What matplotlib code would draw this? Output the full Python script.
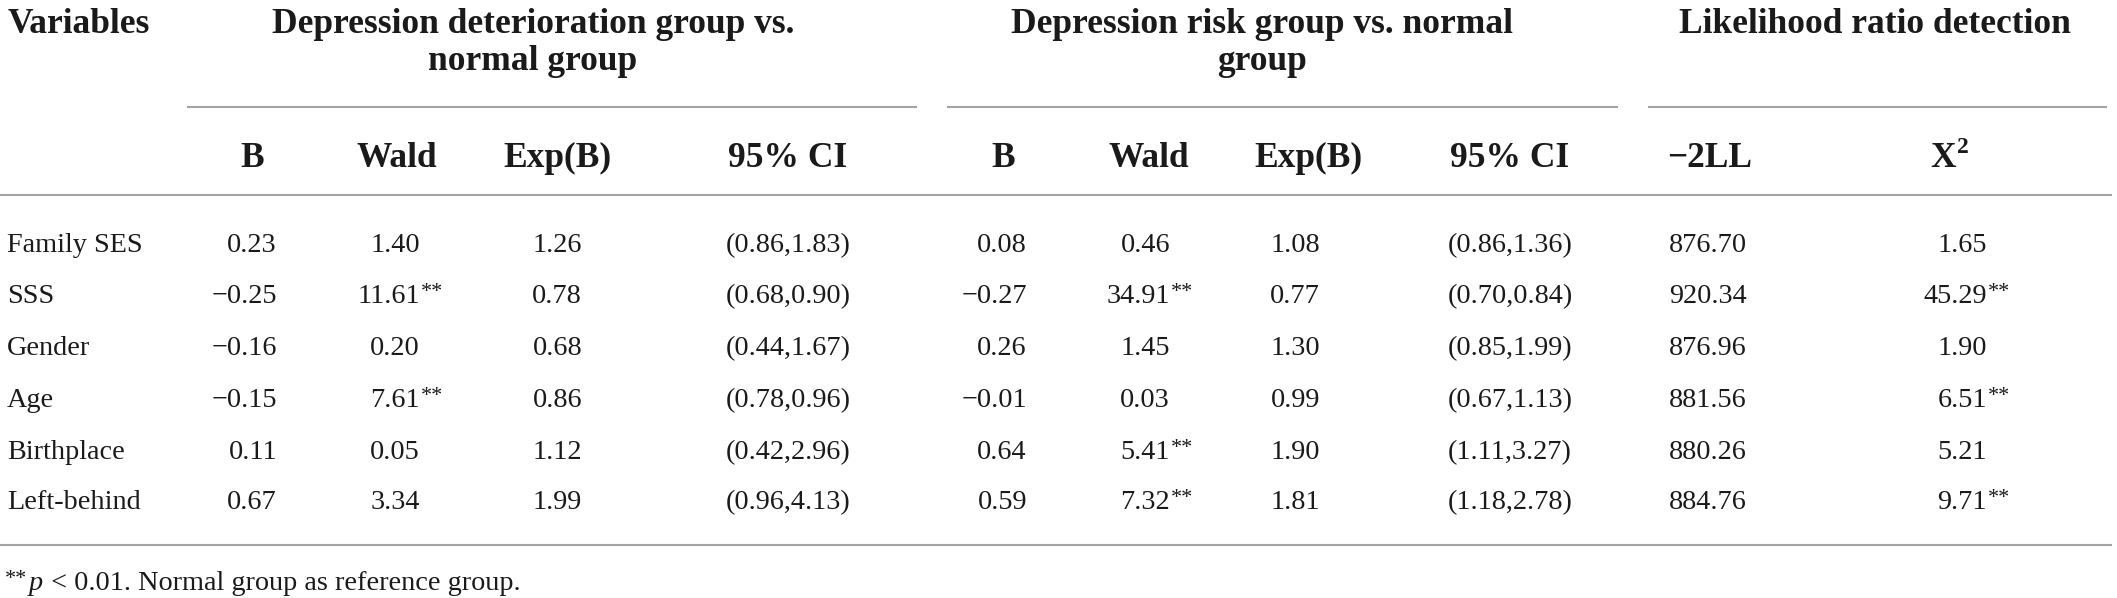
import matplotlib.pyplot as plt

# table contents
variables = ['Family SES', 'SSS', 'Gender', 'Age', 'Birthplace', 'Left-behind']

b_det = [0.23, -0.25, -0.16, -0.15, 0.11, 0.67]
wald_det = [1.40, 11.61, 0.20, 7.61, 0.05, 3.34]
wald_det_sig = [False, True, False, True, False, False]
exp_det = [1.26, 0.78, 0.68, 0.86, 1.12, 1.99]
ci_det = [(0.86, 1.83), (0.68, 0.90), (0.44, 1.67), (0.78, 0.96), (0.42, 2.96), (0.96, 4.13)]

b_risk = [0.08, -0.27, 0.26, -0.01, 0.64, 0.59]
wald_risk = [0.46, 34.91, 1.45, 0.03, 5.41, 7.32]
wald_risk_sig = [False, True, False, False, True, True]
exp_risk = [1.08, 0.77, 1.30, 0.99, 1.90, 1.81]
ci_risk = [(0.86, 1.36), (0.70, 0.84), (0.85, 1.99), (0.67, 1.13), (1.11, 3.27), (1.18, 2.78)]

ll2 = [876.70, 920.34, 876.96, 881.56, 880.26, 884.76]
chi2 = [1.65, 45.29, 1.90, 6.51, 5.21, 9.71]
chi2_sig = [False, True, False, True, False, True]

group_titles = [['Depression deterioration group vs.', 'normal group'],
                ['Depression risk group vs. normal', 'group'],
                ['Likelihood ratio detection']]
sub_headers = ['B', 'Wald', 'Exp(B)', '95% CI', 'B', 'Wald', 'Exp(B)', '95% CI', '\u22122LL']
footnote = ' < 0.01. Normal group as reference group.'

FONT = 'Liberation Serif'
TXT = '#1a1a1a'
LINE = '#a3a3a3'
BODY = 20.3
HEAD = 25.5
STAR = 16


def fmt(v):
    return f'{v:.2f}'.replace('-', '\u2212')


fig = plt.figure(figsize=(21.17, 5.98), dpi=100)
ax = fig.add_axes([0, 0, 1, 1])
ax.set_xlim(0, 2117)
ax.set_ylim(598, 0)
ax.axis('off')


def txt(x, y, s, ha='left', size=BODY, weight='normal', style='normal'):
    return ax.text(x, y, s, ha=ha, va='baseline', fontsize=size, family=FONT,
                   fontweight=weight, fontstyle=style, color=TXT)


def hline(x0, x1, y):
    ax.plot([x0, x1], [y, y], color=LINE, lw=1.5, solid_capstyle='butt')


# header
txt(8, 33, 'Variables', size=HEAD, weight='bold')
group_cx = [533, 1262, 1875]
for cx, lines in zip(group_cx, group_titles):
    for i, line in enumerate(lines):
        txt(cx, 33 + 37 * i, line, ha='center', size=HEAD, weight='bold')

hline(187, 917, 107)
hline(947, 1618, 107)
hline(1648, 2107, 107)

sub_cx = [252, 397, 557, 788, 1003, 1149, 1308, 1510, 1710]
for cx, s in zip(sub_cx, sub_headers):
    txt(cx, 167, s, ha='center', size=HEAD, weight='bold')
# X squared header, superscript drawn as its own text
txt(1956, 167, 'X', ha='right', size=HEAD, weight='bold')
txt(1957, 153, '2', size=17, weight='bold')

hline(0, 2112, 195)
hline(0, 2112, 545)

# body
row_base = [252, 303, 355, 407, 459, 509]


def num_col(x_right, vals, sig=None):
    for i, v in enumerate(vals):
        txt(x_right, row_base[i], fmt(v), ha='right')
        if sig is not None and sig[i]:
            txt(x_right + 1, row_base[i] - 6, '**', size=STAR)


for i, name in enumerate(variables):
    txt(7, row_base[i], name)

num_col(277, b_det)
num_col(420, wald_det, wald_det_sig)
num_col(582, exp_det)
for i, (lo, hi) in enumerate(ci_det):
    txt(788, row_base[i], f'({fmt(lo)},{fmt(hi)})', ha='center')

num_col(1027, b_risk)
num_col(1170, wald_risk, wald_risk_sig)
num_col(1320, exp_risk)
for i, (lo, hi) in enumerate(ci_risk):
    txt(1510, row_base[i], f'({fmt(lo)},{fmt(hi)})', ha='center')

num_col(1747, ll2)
num_col(1987, chi2, chi2_sig)

# footnote
renderer = fig.canvas.get_renderer()
t1 = txt(5, 584, '**', size=STAR)
x = 5 + t1.get_window_extent(renderer).width + 1
t2 = txt(x, 590, 'p', style='italic')
x += t2.get_window_extent(renderer).width + 2
txt(x, 590, footnote)

fig.savefig('out.png', dpi=100)
